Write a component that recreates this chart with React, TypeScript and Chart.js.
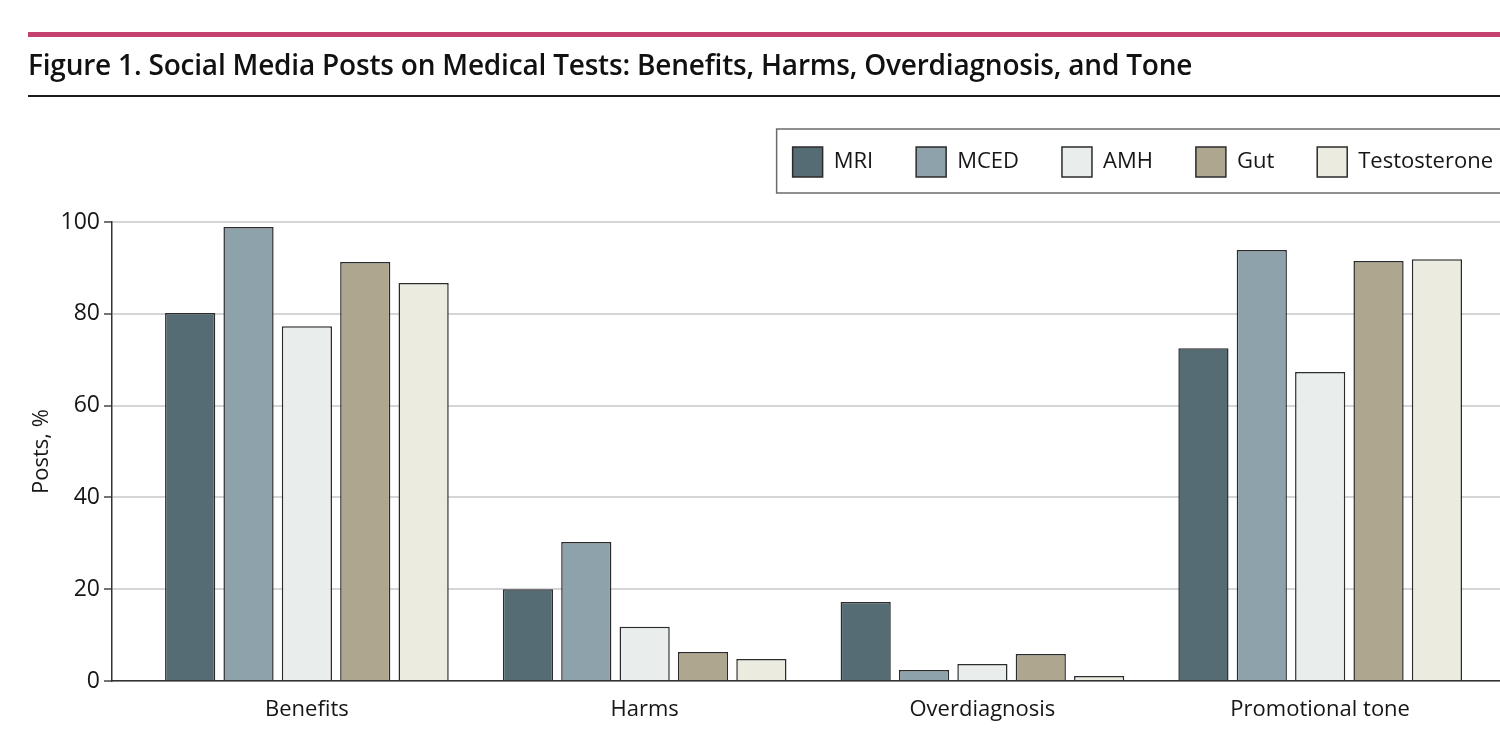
import React, { useEffect, useRef } from "react";
import { Chart, registerables } from "chart.js";

Chart.register(...registerables);

// ---- data ----
const categories = ["Benefits", "Harms", "Overdiagnosis", "Promotional tone"];
const seriesNames = ["MRI", "MCED", "AMH", "Gut", "Testosterone"];
const mri = [80.2, 20.0, 17.2, 72.5];
const mced = [98.9, 30.3, 2.4, 93.9];
const amh = [77.3, 11.8, 3.7, 67.3];
const gut = [91.3, 6.3, 5.9, 91.5];
const testosterone = [86.7, 4.8, 1.1, 91.9];
const seriesValues = [mri, mced, amh, gut, testosterone];
const seriesColors = ["#556c74", "#8da2aa", "#e9edec", "#aea68f", "#ecebdf"];
const yMin = 0;
const yMax = 100;
const yStep = 20;

const TITLE = "Figure 1. Social Media Posts on Medical Tests: Benefits, Harms, Overdiagnosis, and Tone";
const FONT = '"Open Sans", "DejaVu Sans", sans-serif';

// x range (in category units) so that the plot starts at the y axis and extends past the crop
const X_MIN = -0.577;
const X_MAX = 3.639;

const CANVAS_W = 1540;
const CANVAS_H = 730;

export default function App() {
  const ref = useRef<HTMLCanvasElement>(null);

  useEffect(() => {
    const canvas = ref.current;
    if (!canvas) return;

    const legendSpace = {
      id: "legendSpace",
      beforeLayout(chart: any) {
        const lg = chart.legend;
        if (lg && !lg._patchedFit) {
          const orig = lg.fit;
          lg.fit = function () {
            orig.call(this);
            this.height += 35;
          };
          lg._patchedFit = true;
        }
      },
    };

    const legendBorder = {
      id: "legendBorder",
      afterDraw(chart: any) {
        const lg = chart.legend;
        const hb = lg && lg.legendHitBoxes;
        if (!hb || !hb.length) return;
        const ctx = chart.ctx;
        ctx.save();
        ctx.strokeStyle = "#6b6b6b";
        ctx.lineWidth = 1.5;
        const l = hb[0].left - 16;
        const t = hb[0].top - 18;
        ctx.strokeRect(l, t, chart.width - 8 - l, 64);
        ctx.restore();
      },
    };

    const chart = new Chart(canvas, {
      type: "bar",
      data: {
        datasets: seriesNames.map((name, k) => ({
          label: name,
          data: seriesValues[k].map((v, i) => ({ x: i, y: v })),
          backgroundColor: seriesColors[k],
          borderColor: "#2b2b2b",
          borderWidth: 1.5,
          barPercentage: 0.86,
          categoryPercentage: 0.864,
        })),
      },
      options: {
        responsive: false,
        animation: false,
        events: [],
        devicePixelRatio: 1,
        layout: { padding: { top: 104, right: 4, bottom: 0, left: 0 } },
        plugins: {
          title: { display: false },
          tooltip: { enabled: false },
          legend: {
            position: "top",
            align: "end",
            labels: {
              boxWidth: 30,
              boxHeight: 30,
              padding: 43,
              color: "#161616",
              font: { family: FONT, size: 22 },
            },
          },
        },
        scales: {
          x: {
            type: "linear",
            min: X_MIN,
            max: X_MAX,
            offset: false,
            grid: { display: false, drawTicks: false },
            border: { display: true, color: "#333333", width: 1.5 },
            ticks: {
              stepSize: 1,
              includeBounds: false,
              autoSkip: false,
              maxRotation: 0,
              padding: 16,
              color: "#161616",
              font: { family: FONT, size: 22 },
              callback: (v: any) => categories[v as number] ?? "",
            },
            afterFit: (s: any) => {
              s.height = 49;
            },
          },
          y: {
            min: yMin,
            max: yMax,
            ticks: {
              stepSize: yStep,
              padding: 4,
              color: "#161616",
              font: { family: FONT, size: 23 },
            },
            grid: {
              color: "#d5d5d5",
              lineWidth: 2,
              tickColor: "#444444",
              tickLength: 8,
              tickWidth: 1.5,
            },
            border: { color: "#333333", width: 1.5 },
            title: {
              display: true,
              text: "Posts, %",
              color: "#161616",
              font: { family: FONT, size: 22 },
              padding: { top: 29, bottom: 0 },
            },
            afterFit: (s: any) => {
              s.width = 112;
            },
          },
        },
      } as any,
      plugins: [legendSpace, legendBorder],
    });

    return () => chart.destroy();
  }, []);

  return (
    <div
      style={{
        position: "absolute",
        left: 0,
        top: 0,
        width: 1500,
        height: 730,
        overflow: "hidden",
        background: "#ffffff",
      }}
    >
      <canvas
        ref={ref}
        width={CANVAS_W}
        height={CANVAS_H}
        style={{ position: "absolute", left: 0, top: 0, width: CANVAS_W, height: CANVAS_H }}
      />
      <div
        style={{
          position: "absolute",
          left: 28,
          top: 32,
          width: 1500,
          height: 5,
          background: "#c4426f",
        }}
      />
      <div
        style={{
          position: "absolute",
          left: 28,
          top: 45,
          font: `600 28px ${FONT}`,
          letterSpacing: "-0.2px",
          lineHeight: "38px",
          color: "#111111",
          whiteSpace: "nowrap",
        }}
      >
        {TITLE}
      </div>
      <div
        style={{
          position: "absolute",
          left: 28,
          top: 95,
          width: 1500,
          height: 2,
          background: "#1a1a1a",
        }}
      />
    </div>
  );
}
